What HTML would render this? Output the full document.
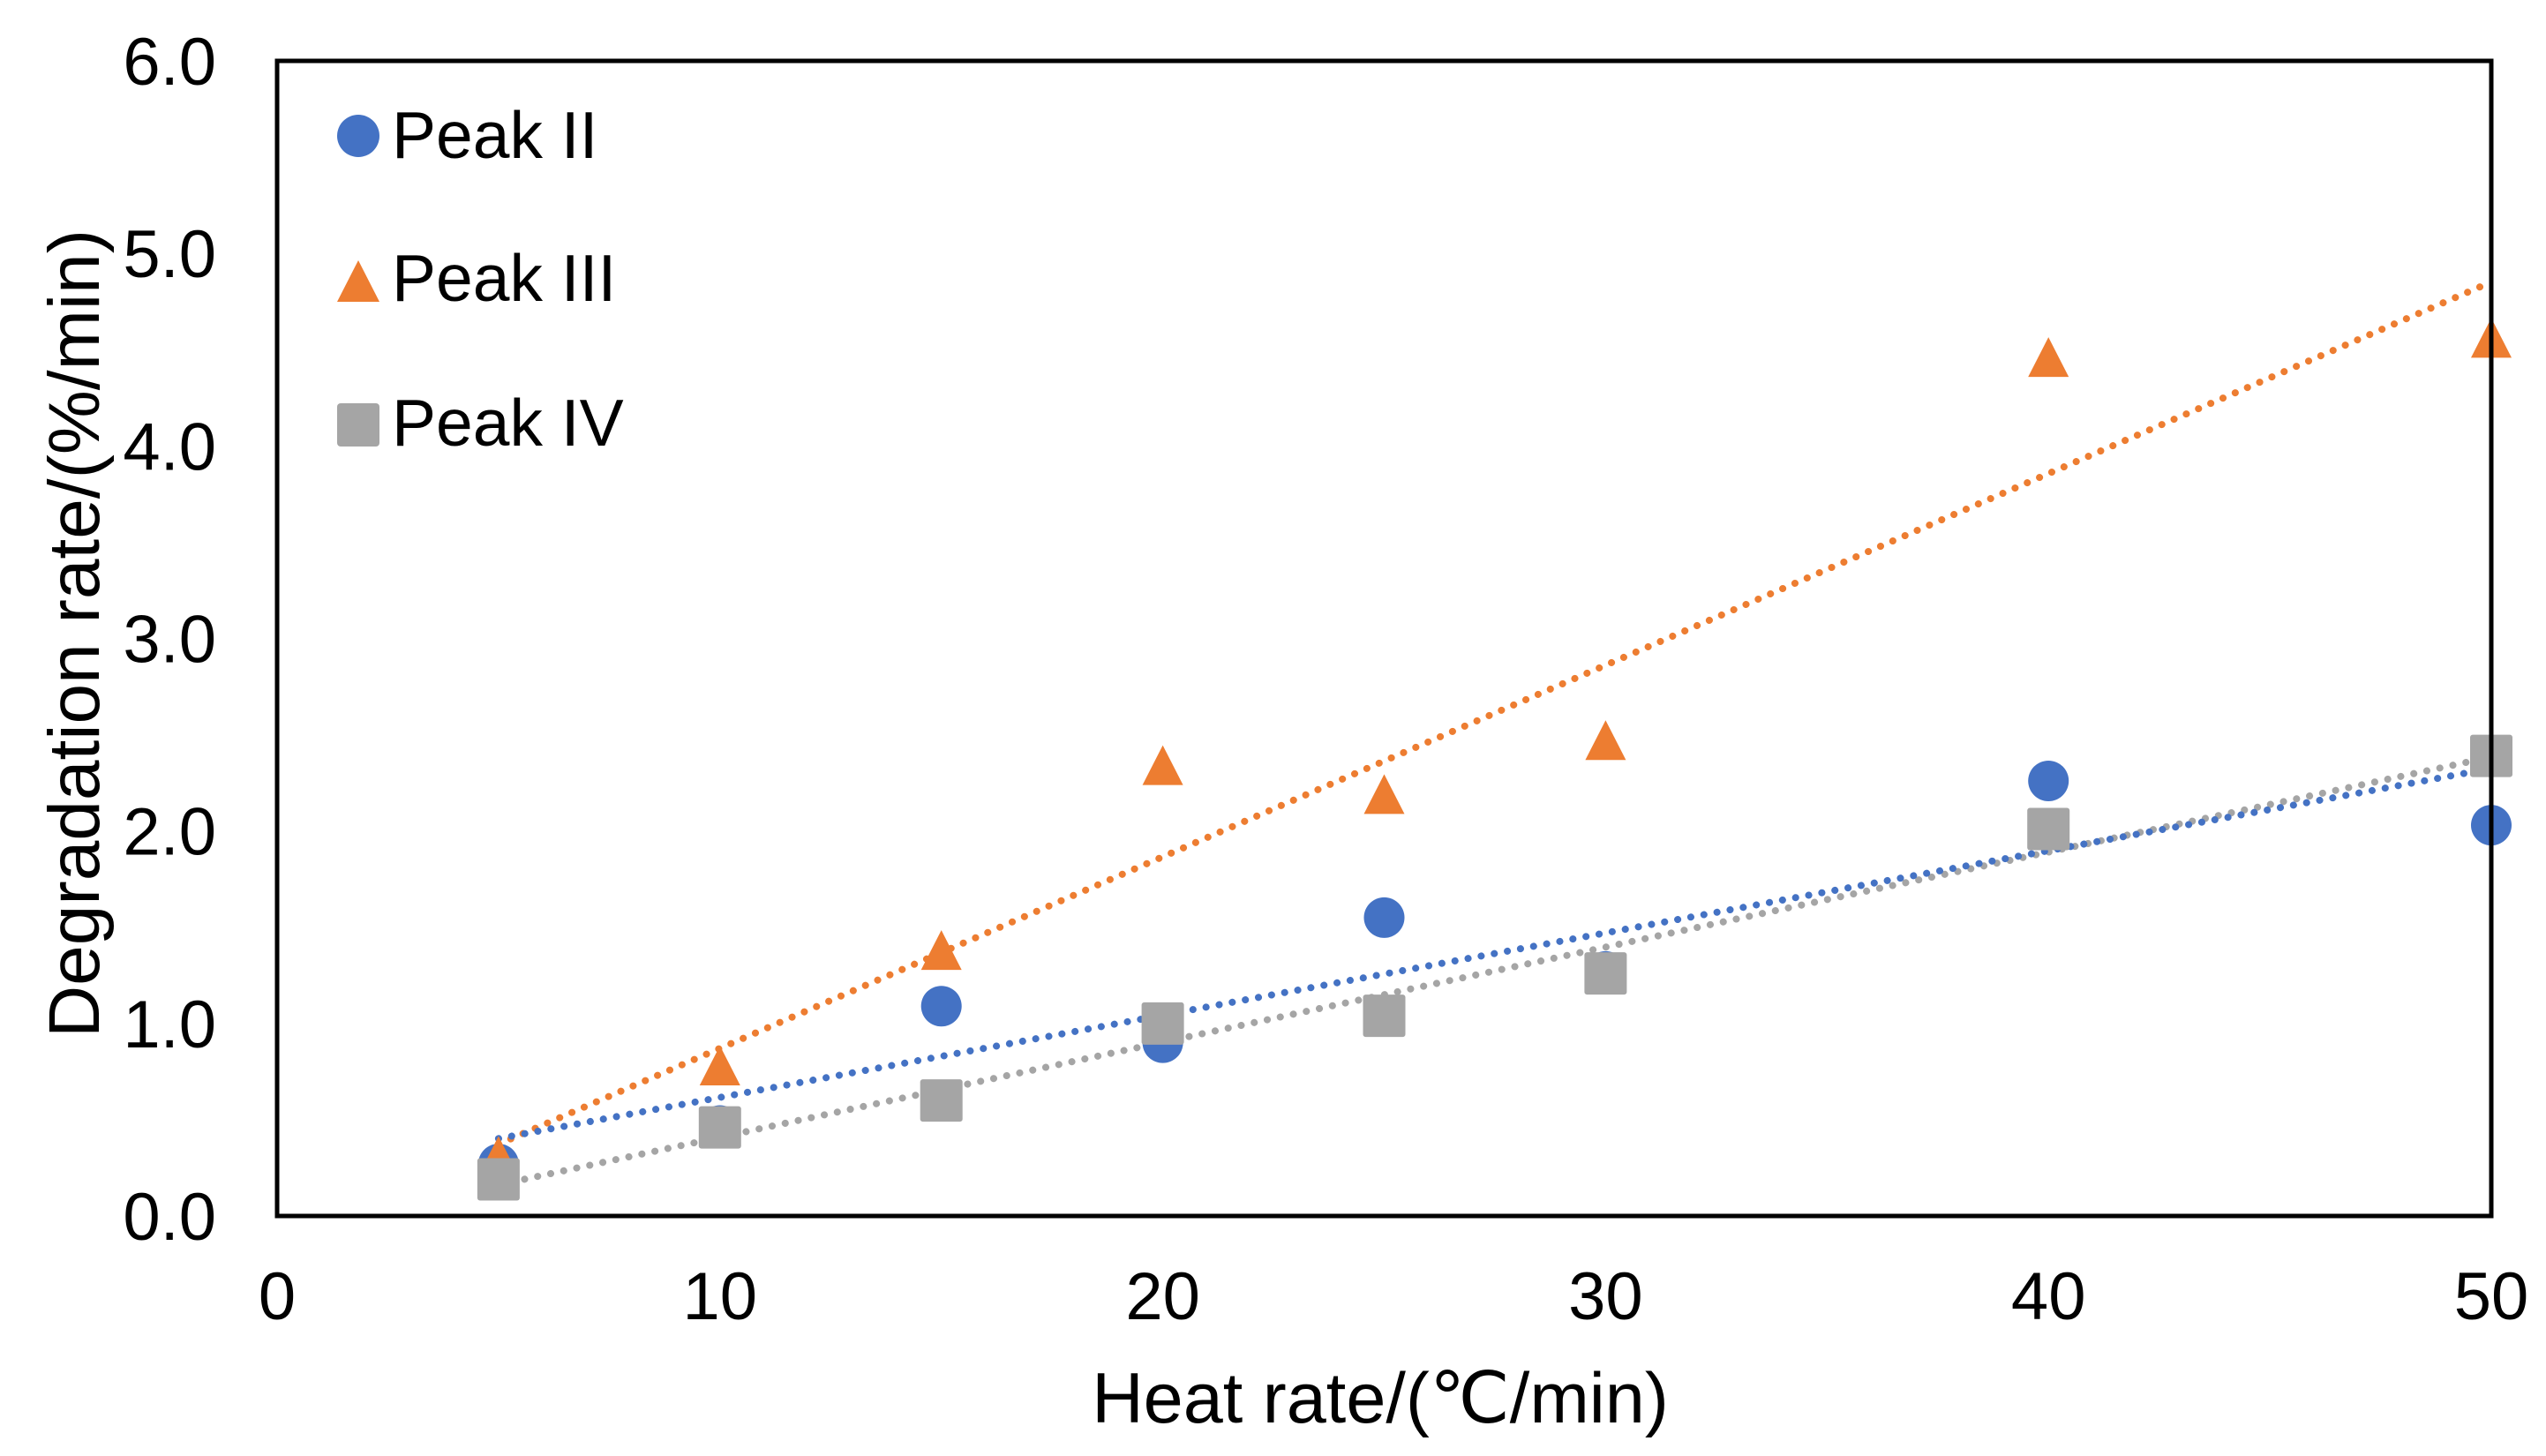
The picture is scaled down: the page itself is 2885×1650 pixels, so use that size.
<!DOCTYPE html>
<html><head><meta charset="utf-8"><style>
html,body{margin:0;padding:0;background:#fff;}
svg{display:block;font-family:"Liberation Sans",Arial,sans-serif;}
</style></head><body>
<svg id="chart" width="2885" height="1650" viewBox="0 0 2885 1650" xmlns="http://www.w3.org/2000/svg">
<rect width="2885" height="1650" fill="#fff"/>
<g id="trends"></g>
<g id="marks"></g>
<rect x="314" y="69" width="2509" height="1309" fill="none" stroke="#000" stroke-width="5"/>
<g id="ticks" fill="#000"></g>
<text x="1564" y="1612" font-size="81" text-anchor="middle">Heat rate/(℃/min)</text>
<text transform="translate(112,718) rotate(-90)" font-size="82" text-anchor="middle">Degradation rate/(%/min)</text>
<g font-size="75">
<circle cx="406" cy="154" r="24" fill="#4472C4"/>
<text x="444" y="179">Peak II</text>
<polygon points="406,295 382,342 430,342" fill="#ED7D31"/>
<text x="444" y="341">Peak III</text>
<rect x="382" y="457" width="48" height="49" rx="4" fill="#A5A5A5"/>
<text x="444" y="505">Peak IV</text>
</g>
</svg>
<script>
const xValues = [5, 10, 15, 20, 25, 30, 40, 50];
const peakII = [0.27, 0.47, 1.09, 0.90, 1.55, 1.27, 2.26, 2.03];
const peakIII = [0.30, 0.77, 1.37, 2.33, 2.18, 2.46, 4.45, 4.55];
const peakIV = [0.19, 0.46, 0.60, 1.00, 1.04, 1.26, 2.01, 2.39];
const xTicks = [0, 10, 20, 30, 40, 50];
const yTicks = ["0.0", "1.0", "2.0", "3.0", "4.0", "5.0", "6.0"];

const X0 = 314, X1 = 2823, Y0 = 1378, Y1 = 69;
const xs = v => X0 + (v - 0) / 50 * (X1 - X0);
const ys = v => Y0 - v / 6 * (Y0 - Y1);
const NS = "http://www.w3.org/2000/svg";
const ticks = document.getElementById('ticks');
const marks = document.getElementById('marks');
const trends = document.getElementById('trends');

yTicks.forEach(t => {
  const e = document.createElementNS(NS, 'text');
  
  
  e.setAttribute('x', 245); e.setAttribute('y', ys(parseFloat(t)) + 27);
  e.setAttribute('text-anchor', 'end'); e.setAttribute('font-size', 76);
  e.textContent = t; ticks.appendChild(e);
});
xTicks.forEach(t => {
  const e = document.createElementNS(NS, 'text');
  
  
  e.setAttribute('x', xs(t)); e.setAttribute('y', 1495);
  e.setAttribute('text-anchor', 'middle'); e.setAttribute('font-size', 76);
  e.textContent = t; ticks.appendChild(e);
});

function fit(ys_) {
  const n = xValues.length;
  let sx = 0, sy = 0, sxx = 0, sxy = 0;
  for (let i = 0; i < n; i++) { sx += xValues[i]; sy += ys_[i]; sxx += xValues[i] * xValues[i]; sxy += xValues[i] * ys_[i]; }
  const b = (n * sxy - sx * sy) / (n * sxx - sx * sx);
  const a = (sy - b * sx) / n;
  return [a, b];
}
const series = [
  {name: 'peak-iii', data: peakIII, color: '#ED7D31', shape: 'tri'},
  {name: 'peak-iv', data: peakIV, color: '#A5A5A5', shape: 'sq'},
  {name: 'peak-ii', data: peakII, color: '#4472C4', shape: 'circ'}
];
series.forEach(s => {
  const [a, b] = fit(s.data);
  const xa = xValues[0], xb = xValues[xValues.length - 1];
  const l = document.createElementNS(NS, 'line');
  
  
  l.setAttribute('x1', xs(xa)); l.setAttribute('y1', ys(a + b * xa));
  l.setAttribute('x2', xs(xb)); l.setAttribute('y2', ys(a + b * xb));
  l.setAttribute('stroke', s.color); l.setAttribute('stroke-width', 8);
  l.setAttribute('stroke-linecap', 'round'); l.setAttribute('stroke-dasharray', '0.1 15');
  trends.appendChild(l);
});
[series[2], series[0], series[1]].forEach(s => {
  s.data.forEach((v, i) => {
    const cx = xs(xValues[i]), cy = ys(v);
    let e;
    if (s.shape === 'circ') {
      e = document.createElementNS(NS, 'circle');
      e.setAttribute('cx', cx); e.setAttribute('cy', cy); e.setAttribute('r', 23);
    } else if (s.shape === 'tri') {
      e = document.createElementNS(NS, 'polygon');
      e.setAttribute('points', `${cx},${cy - 25} ${cx - 23},${cy + 20} ${cx + 23},${cy + 20}`);
    } else {
      e = document.createElementNS(NS, 'rect');
      e.setAttribute('x', cx - 24); e.setAttribute('y', cy - 24);
      e.setAttribute('width', 48); e.setAttribute('height', 48); e.setAttribute('rx', 3);
    }
    
    
    e.setAttribute('fill', s.color);
    marks.appendChild(e);
  });
});
</script>
</body></html>
